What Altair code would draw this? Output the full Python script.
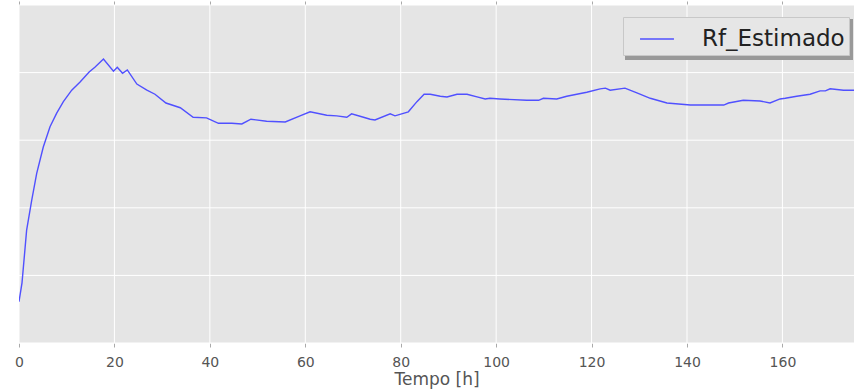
import altair as alt
import pandas as pd

tempo = [0, 0.63, 1.6, 2.66, 3.71, 5.09, 6.5, 7.9, 9.3, 11.05, 12.8, 14.7, 15.9, 17.7,
         19.8, 20.6, 21.7, 22.7, 24.7, 26.8, 28.5, 30.8, 33.8, 36.5, 39.3, 41.8, 44.6,
         46.7, 48.6, 51.9, 55.8, 58.9, 61.0, 64.5, 66.6, 68.7, 69.7, 72.2, 73.6, 74.6,
         77.8, 78.8, 81.6, 83.4, 84.9, 86.2, 88.3, 89.7, 91.8, 93.9, 96.0, 97.7, 98.7,
         100.8, 106.4, 108.9, 109.9, 112.7, 114.8, 119.0, 121.8, 122.9, 123.9, 127.0,
         129.5, 132.3, 135.8, 140.7, 147.7, 148.7, 151.8, 155.3, 157.4, 159.5, 160.6,
         163.0, 165.8, 167.9, 169.0, 170.0, 172.8, 175.0]
rf = [0.61, 0.89, 1.67, 2.11, 2.51, 2.90, 3.20, 3.40, 3.57, 3.74, 3.86, 4.01, 4.08, 4.20,
      4.02, 4.08, 3.99, 4.04, 3.83, 3.74, 3.68, 3.55, 3.48, 3.34, 3.33, 3.25, 3.25,
      3.24, 3.31, 3.28, 3.27, 3.36, 3.42, 3.37, 3.36, 3.34, 3.39, 3.34, 3.31, 3.30,
      3.39, 3.36, 3.42, 3.57, 3.68, 3.68, 3.65, 3.64, 3.68, 3.68, 3.64, 3.61, 3.62,
      3.61, 3.59, 3.59, 3.62, 3.61, 3.65, 3.71, 3.76, 3.77, 3.74, 3.77,
      3.70, 3.62, 3.55, 3.52, 3.52, 3.55, 3.59, 3.58, 3.55, 3.61, 3.62,
      3.65, 3.68, 3.73, 3.73, 3.76, 3.74, 3.74]
serie = "Rf_Estimado"
x_ticks = [0, 20, 40, 60, 80, 100, 120, 140, 160]
y_ticks = [0, 1, 2, 3, 4, 5]

df = pd.DataFrame({"t": tempo, "rf": rf, "serie": serie})
gx = pd.DataFrame({"t": x_ticks})
gy = pd.DataFrame({"rf": y_ticks})

font = "DejaVu Sans"
xscale = alt.Scale(domain=[0, 175], nice=False, zero=False)
yscale = alt.Scale(domain=[0, 5], nice=False)

grid_x = alt.Chart(gx).mark_rule(color="white", strokeWidth=1).encode(
    x=alt.X("t:Q", scale=xscale, title="Tempo [h]",
            axis=alt.Axis(values=x_ticks, orient="bottom", domain=False, grid=False,
                          tickColor="#aaa", tickSize=4, labelFlush=False,
                          labelColor="#555", labelFontSize=14, labelFont=font, labelPadding=8,
                          titleColor="#555", titleFontSize=17, titleFont=font,
                          titleFontWeight="normal", titlePadding=2)),
)
grid_y = alt.Chart(gy).mark_rule(color="white", strokeWidth=1).encode(
    y=alt.Y("rf:Q", scale=yscale, title=None,
            axis=alt.Axis(values=y_ticks, labels=False, domain=False, grid=False,
                          tickColor="#aaa", tickSize=4)),
)

line = alt.Chart(df).mark_line(strokeWidth=1.4, clip=True).encode(
    x=alt.X("t:Q", scale=xscale, axis=None),
    y=alt.Y("rf:Q", scale=yscale, axis=None),
    color=alt.Color("serie:N", scale=alt.Scale(range=["#5050ff"]), title=None,
                    legend=alt.Legend(orient="none", legendX=604, legendY=12,
                                      symbolType="stroke", symbolSize=1150,
                                      symbolStrokeWidth=1.5, symbolOffset=12,
                                      labelFontSize=23, labelFont=font, labelColor="#222",
                                      labelOffset=27, padding=4,
                                      fillColor="#e6e6e6", strokeColor="#c8c8c8")),
)

top_axis = alt.Chart(gx).mark_rule(opacity=0).encode(
    x=alt.X("t:Q", scale=xscale, title=None,
            axis=alt.Axis(values=x_ticks, orient="top", labels=False, domain=False,
                          grid=False, tickColor="#aaa", tickSize=4)),
)

shadow = alt.Chart(gx).mark_rect(color="#999999").encode(
    x=alt.value(606), x2=alt.value(834), y=alt.value(14), y2=alt.value(55),
)

chart = alt.layer(grid_x, grid_y, top_axis, shadow, line).resolve_axis(
    x="independent"
).properties(
    width=835, height=338,
    background="white",
    autosize=alt.AutoSizeParams(type="none"),
    padding={"left": 19, "top": 5, "right": 0, "bottom": 48},
).configure_view(fill="#e5e5e5", stroke=None)

chart.save("out.html", embed_options={"renderer": "svg", "actions": False})
